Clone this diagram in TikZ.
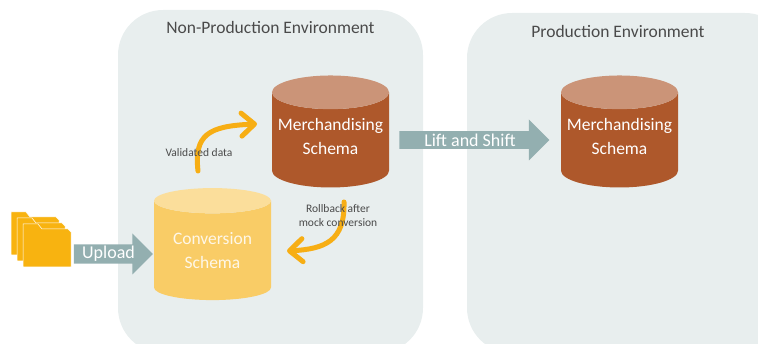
\documentclass[tikz,border=0pt]{standalone}
\usepackage{fontspec}
\setmainfont{Carlito}
\usetikzlibrary{arrows.meta,shapes.geometric,shapes.arrows}
\definecolor{panel grey}{HTML}{E8EEEE}
\definecolor{merch brown}{HTML}{AE582B}
\definecolor{merch top}{HTML}{CB9478}
\definecolor{conv yellow}{HTML}{F9CC66}
\definecolor{conv top}{HTML}{FBDE9B}
\definecolor{lift grey}{HTML}{93AFB0}
\definecolor{flow orange}{HTML}{F7AE14}
\definecolor{folder orange}{HTML}{F8B310}
\definecolor{label grey}{HTML}{4A4A4A}
\tikzset{
	panel/.style = {fill=panel grey, rounded corners=45},
	schema/.style = {cylinder, shape border rotate=90, aspect=0.32, cylinder uses custom fill,
		minimum width=117, minimum height=112, inner sep=0, outer sep=0, align=center, font=\fontsize{17.5}{24}\selectfont},
	merch/.style = {schema, cylinder body fill=merch brown, cylinder end fill=merch top, text=white, text depth=7},
	conv/.style = {schema, cylinder body fill=conv yellow, cylinder end fill=conv top, text=white!85!conv yellow},
	liftarrow/.style = {single arrow, fill=lift grey, text=white, single arrow head extend=10, single arrow head indent=0,
		minimum width=41, inner sep=1, outer sep=0, font=\fontsize{18}{22}\selectfont},
	flow/.style = {draw=flow orange, line width=5, line cap=round, line join=round,
		-{Straight Barb[length=13,width=23,line cap=round,round]}},
	envlabel/.style = {text=label grey, font=\fontsize{17.5}{22}\selectfont},
	flowlabel/.style = {text=label grey, align=center, font=\fontsize{11.5}{14}\selectfont},
	folder/.style = {fill=folder orange, draw=white, line width=0.5}
}
\begin{document}
\begin{tikzpicture}[x=1pt,y=1pt]
	\useasboundingbox (0,0) rectangle (758,343);
	\begin{scope}
		\clip (0,0) rectangle (758,343);
		% environments
		\fill[panel] (118,-10) rectangle (423,333);
		\fill[panel] (467,-10) rectangle (790,330);
	\end{scope}
	\node[envlabel] (nonprod) at (270.5,316) {Non-Production Environment};
	\node[envlabel] (prod) at (618,312) {Production Environment};
	% folders
	\foreach \dx/\dy in {0/0, 6/-6, 12/-12} {
		\fill[folder, shift={(11+\dx,88+\dy)}] (0,0) -- (0,43) -- (15,43) -- (19,38) -- (45,38) -- (48,35) -- (48,0) -- cycle;
	}
	% schemas
	\node[merch] (merchdev) at (330.5,203) {Merchandising\\Schema};
	\node[conv] (convdev) at (212.5,92.5) {Conversion\\Schema};
	\node[merch] (merchprod) at (619.5,203) {Merchandising\\Schema};
	% block arrows
	\node[liftarrow, minimum height=79] (upload) at (108.5,89) {Upload};
	\node[liftarrow, minimum height=150] (lift) at (470,203) {Lift and Shift};
	% flows
	\coordinate (valstart) at (198,172);
	\coordinate (valend) at (257,219);
	\coordinate (rollstart) at (344,141);
	\coordinate (rollend) at (287,92);
	\draw[flow] (valstart) .. controls (194,208) and (208,217) .. (valend);
	\draw[flow] (rollstart) .. controls (345,102) and (325,94) .. (rollend);
	\node[flowlabel] (validated) at (199,190) {Validated data};
	\node[flowlabel] (rollback) at (338,127) {Rollback after\\mock conversion};
\end{tikzpicture}
\end{document}
